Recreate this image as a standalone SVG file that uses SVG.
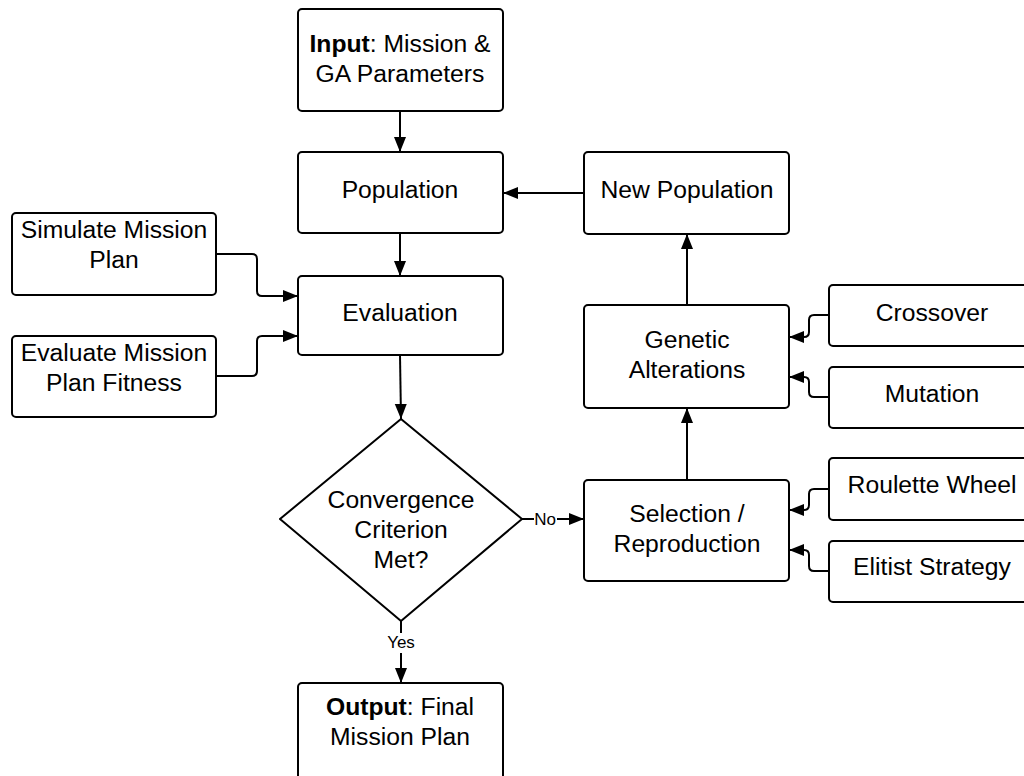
<svg xmlns="http://www.w3.org/2000/svg" width="1024" height="776" viewBox="0 0 1024 776">
  <style>
    .box { fill: #ffffff; stroke: #000000; stroke-width: 2; }
    .lbl { font-family: "Liberation Sans", Arial, sans-serif; font-size: 24.7px; fill: #000000; text-anchor: middle; }
    .small { font-family: "Liberation Sans", Arial, sans-serif; font-size: 17px; fill: #000000; text-anchor: middle; }
    .wire { fill: none; stroke: #000000; stroke-width: 2; }
    .bold { font-weight: bold; }
  </style>
  <defs>
    <marker id="arrow" markerUnits="userSpaceOnUse" markerWidth="16" markerHeight="14" refX="15" refY="6" orient="auto">
      <path d="M0,0 L15,6 L0,12 Z" fill="#000000"/>
    </marker>
  </defs>
  <rect width="1024" height="776" fill="#ffffff"/>

  <!-- connectors -->
  <g id="connectors">
    <path class="wire" d="M400,111 V152" marker-end="url(#arrow)"/>
    <path class="wire" d="M400,233 V276" marker-end="url(#arrow)"/>
    <path class="wire" d="M584,193 H503" marker-end="url(#arrow)"/>
    <path class="wire" d="M216,254 H252 Q257,254 257,259 V291 Q257,296 262,296 H298" marker-end="url(#arrow)"/>
    <path class="wire" d="M216,376 H252 Q257,376 257,371 V341 Q257,336 262,336 H298" marker-end="url(#arrow)"/>
    <path class="wire" d="M400,355 L401,419" marker-end="url(#arrow)"/>
    <path class="wire" d="M522,519 H534"/>
    <path class="wire" d="M557,519 H584" marker-end="url(#arrow)"/>
    <text class="small" x="545" y="525">No</text>
    <path class="wire" d="M401,621 V633"/>
    <path class="wire" d="M401,653 V683" marker-end="url(#arrow)"/>
    <text class="small" x="401" y="648">Yes</text>
    <path class="wire" d="M687,480 V408" marker-end="url(#arrow)"/>
    <path class="wire" d="M687,305 V234" marker-end="url(#arrow)"/>
    <path class="wire" d="M829,315 H814 Q809,315 809,320 V332 Q809,337 804,337 H789" marker-end="url(#arrow)"/>
    <path class="wire" d="M829,397 H814 Q809,397 809,392 V382 Q809,377 804,377 H789" marker-end="url(#arrow)"/>
    <path class="wire" d="M829,489 H814 Q809,489 809,494 V505 Q809,510 804,510 H789" marker-end="url(#arrow)"/>
    <path class="wire" d="M829,571 H814 Q809,571 809,566 V555 Q809,550 804,550 H789" marker-end="url(#arrow)"/>
  </g>

  <g id="input">
    <rect class="box" x="298" y="9" width="205" height="102" rx="4"/>
    <text class="lbl" x="400" y="52"><tspan class="bold">Input</tspan>: Mission &amp;</text>
    <text class="lbl" x="400" y="82">GA Parameters</text>
  </g>

  <g id="population">
    <rect class="box" x="298" y="152" width="205" height="81" rx="4"/>
    <text class="lbl" x="400" y="198">Population</text>
  </g>

  <g id="evaluation">
    <rect class="box" x="298" y="276" width="205" height="79" rx="4"/>
    <text class="lbl" x="400" y="321">Evaluation</text>
  </g>

  <g id="simulate">
    <rect class="box" x="12" y="213" width="204" height="82" rx="4"/>
    <text class="lbl" x="114" y="238">Simulate Mission</text>
    <text class="lbl" x="114" y="268">Plan</text>
  </g>

  <g id="fitness">
    <rect class="box" x="12" y="336" width="204" height="81" rx="4"/>
    <text class="lbl" x="114" y="361">Evaluate Mission</text>
    <text class="lbl" x="114" y="391">Plan Fitness</text>
  </g>

  <g id="convergence">
    <path class="box" d="M401,419 L522,519 L401,621 L280,519 Z" stroke-linejoin="round"/>
    <text class="lbl" x="401" y="508">Convergence</text>
    <text class="lbl" x="401" y="538">Criterion</text>
    <text class="lbl" x="401" y="568">Met?</text>
  </g>

  <g id="output">
    <rect class="box" x="298" y="683" width="205" height="102" rx="4"/>
    <text class="lbl" x="400" y="715"><tspan class="bold">Output</tspan>: Final</text>
    <text class="lbl" x="400" y="745">Mission Plan</text>
  </g>

  <g id="new-population">
    <rect class="box" x="584" y="152" width="205" height="82" rx="4"/>
    <text class="lbl" x="687" y="198">New Population</text>
  </g>

  <g id="genetic-alterations">
    <rect class="box" x="584" y="305" width="205" height="103" rx="4"/>
    <text class="lbl" x="687" y="348">Genetic</text>
    <text class="lbl" x="687" y="378">Alterations</text>
  </g>

  <g id="selection">
    <rect class="box" x="584" y="480" width="205" height="101" rx="4"/>
    <text class="lbl" x="687" y="522">Selection /</text>
    <text class="lbl" x="687" y="552">Reproduction</text>
  </g>

  <g id="crossover">
    <rect class="box" x="829" y="285" width="206" height="61" rx="4"/>
    <text class="lbl" x="932" y="321">Crossover</text>
  </g>

  <g id="mutation">
    <rect class="box" x="829" y="367" width="206" height="61" rx="4"/>
    <text class="lbl" x="932" y="402">Mutation</text>
  </g>

  <g id="roulette">
    <rect class="box" x="829" y="458" width="206" height="62" rx="4"/>
    <text class="lbl" x="932" y="493">Roulette Wheel</text>
  </g>

  <g id="elitist">
    <rect class="box" x="829" y="541" width="206" height="61" rx="4"/>
    <text class="lbl" x="932" y="575">Elitist Strategy</text>
  </g>
</svg>
